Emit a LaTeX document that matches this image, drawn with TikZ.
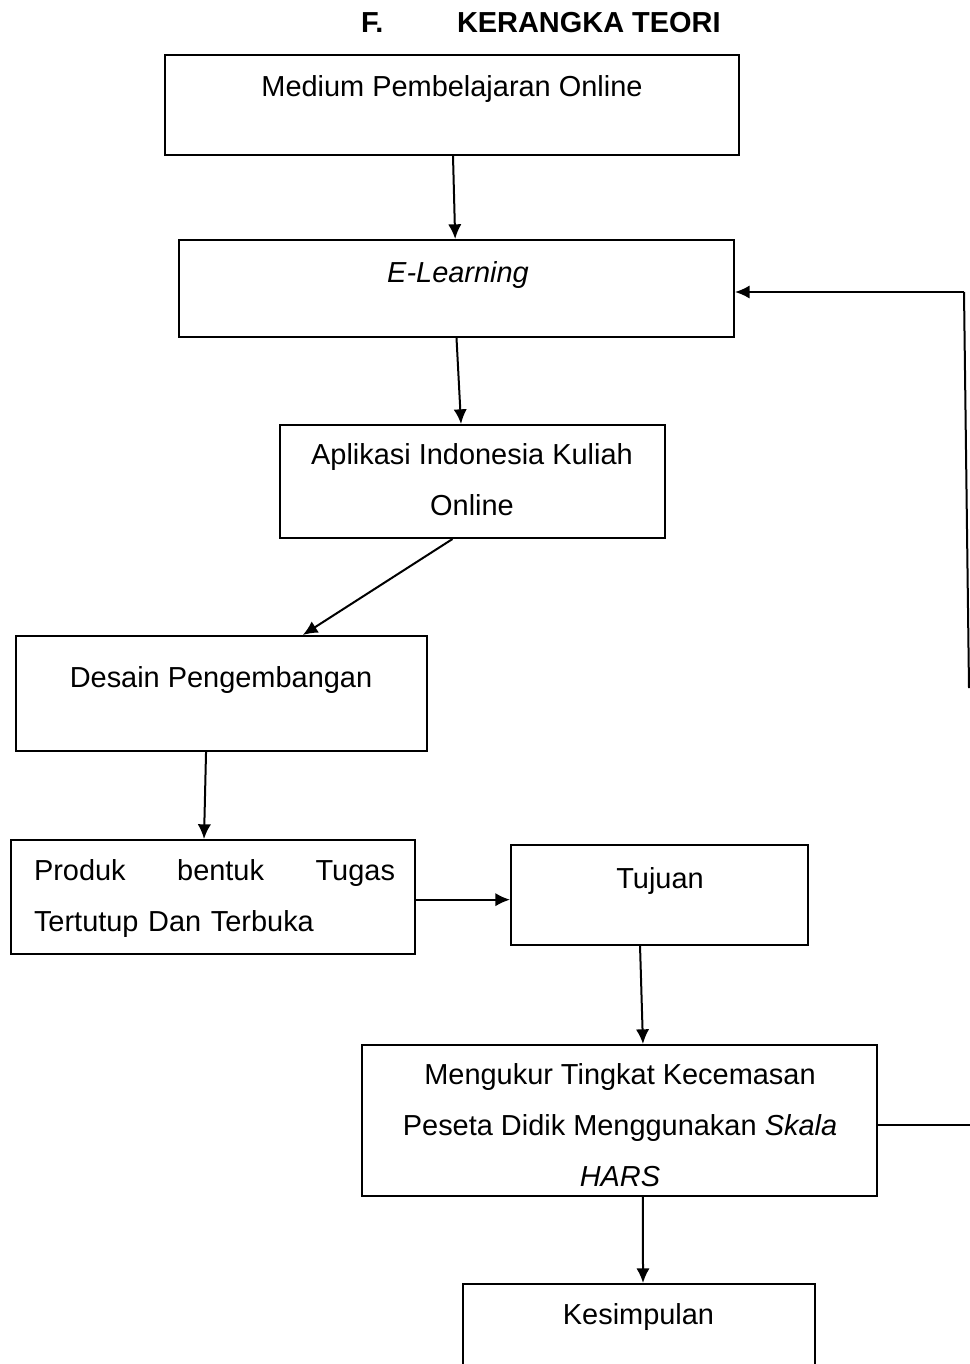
\documentclass[tikz,border=0pt]{standalone}
\usepackage{fontspec}
\setmainfont{Liberation Sans}
\usetikzlibrary{positioning, arrows.meta}

\begin{document}
\begin{tikzpicture}[x=0.75pt, y=-0.75pt, line width=1.5pt,
    panah/.style={-{Latex[length=11pt, width=10pt]}},
    box/.style={draw, rectangle, inner sep=0pt},
    txt/.style={inner sep=0pt, anchor=base, align=center, font=\fontsize{21.7}{38.25}\selectfont}]
      \useasboundingbox (0,0) rectangle (970,1364);
      % judul
      \node[txt, anchor=base west, font=\fontsize{21.7}{26}\selectfont\bfseries] (judulF) at (360,32) {F.};
      \node[txt, anchor=base west, font=\fontsize{21.7}{26}\selectfont\bfseries] (judul) at (456,32) {KERANGKA TEORI};
      % kotak
      \node[box, minimum width=430.5pt, minimum height=75pt] (medium) at (452,105) {};
      \node[box, minimum width=416.25pt, minimum height=72.75pt] (elearn) at (456.5,288.5) {};
      \node[box, minimum width=288.75pt, minimum height=84.75pt] (aplikasi) at (472.5,481.5) {};
      \node[box, minimum width=308.25pt, minimum height=86.25pt] (desain) at (221.5,693.5) {};
      \node[box, minimum width=303pt, minimum height=85.5pt] (produk) at (213,897) {};
      \node[box, minimum width=222.75pt, minimum height=75pt] (tujuan) at (659.5,895) {};
      \node[box, minimum width=386.25pt, minimum height=113.25pt] (ukur) at (619.5,1120.5) {};
      \node[box, minimum width=264pt, minimum height=102pt] (simpul) at (639,1352) {};
      % teks (base = baris terakhir)
      \node[txt] (medium-t) at (452,96) {Medium Pembelajaran Online};
      \node[txt] (elearn-t) at (458,282) {\itshape E-Learning};
      \node[txt] (aplikasi-t) at (472,515) {Aplikasi Indonesia Kuliah\\Online};
      \node[txt] (desain-t) at (221,687) {Desain Pengembangan};
      \node[txt, anchor=base west, align=left, text width=270.75pt] (produk-t) at (33,880) {Produk\hfill bentuk\hfill Tugas\\Tertutup Dan Terbuka};
      \node[txt] (tujuan-t) at (660,888) {Tujuan};
      \node[txt] (ukur-t) at (620,1186) {Mengukur Tingkat Kecemasan\\Peseta Didik Menggunakan \textit{Skala}\\\textit{HARS}};
      \node[txt] (simpul-t) at (638.5,1324) {Kesimpulan};
      % panah
      \draw[panah] ([xshift=0.75pt]medium.south) -- ([xshift=-1pt]elearn.north);
      \draw[panah] (elearn.south) -- ([xshift=3.4pt]elearn.south |- aplikasi.north);
      \draw[panah] ([xshift=-15pt]aplikasi.south) -- ([xshift=61pt]desain.north);
      \draw[panah] ([xshift=-11.6pt]desain.south) -- ([xshift=-6.75pt]produk.north);
      \draw[panah] ([yshift=-2pt]produk.east) -- ([yshift=-2pt]produk.east -| tujuan.west);
      \draw[panah] ([xshift=-14.6pt]tujuan.south) -- ([xshift=17.6pt]ukur.north);
      \draw[panah] ([xshift=17.6pt]ukur.south) -- ([xshift=3pt]simpul.north);
      % garis balik
      \coordinate (balik) at (964,292);
      \coordinate (balikUjung) at (969,688);
      \coordinate (ukurKanan) at (970,1125);
      \draw[panah] (balik) -- (elearn.east |- balik);
      \draw (balik) -- (balikUjung);
      \draw (ukur.east |- ukurKanan) -- (ukurKanan);
\end{tikzpicture}
\end{document}
